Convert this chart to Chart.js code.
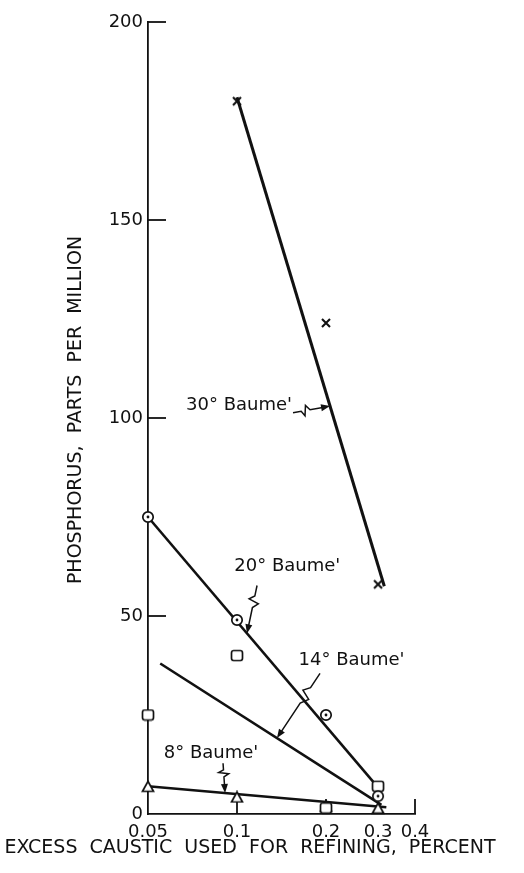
<!DOCTYPE html>
<html>
<head>
<meta charset="utf-8">
<script src="https://cdn.jsdelivr.net/npm/chart.js@4/dist/chart.umd.min.js"></script>
<style>
  html, body { margin: 0; padding: 0; background: #fff; }
  #wrap { width: 524px; height: 873px; }
</style>
</head>
<body>
<div id="wrap"><canvas id="c" width="524" height="873"></canvas></div>
<script>
// Excess caustic (percent) at which the oils were refined
const causticPct = [0.05, 0.1, 0.2, 0.3];

// Phosphorus (ppm) in the refined oil, one list per gravity of caustic
const baume30 = [null, 180, 124, 58];
const baume20 = [75, 49, 25, 4.5];
const baume14 = [25, 40, 1.5, 7];
const baume8  = [7, 4.3, 2, 1.5];

// Hand-fitted trend lines (start, end)
const fit30X = [0.1, 0.315];   const fit30Y = [181, 57.5];
const fit20X = [0.05, 0.29];   const fit20Y = [75, 8];
const fit14X = [0.055, 0.308]; const fit14Y = [38, 2.3];
const fit8X  = [0.05, 0.32];   const fit8Y  = [7, 1.7];

// Axis ticks
const xTicks = [0.05, 0.1, 0.2, 0.3, 0.4];
const xTickLabels = ['0.05', '0.1', '0.2', '0.3', '0.4'];
const yTicks = [0, 50, 100, 150, 200];

// Curve names and their callout pointers (data units)
const curveNames = ["30° Baume'", "20° Baume'", "14° Baume'", "8° Baume'"];
const nameX = [0.1016, 0.148, 0.244, 0.0817];
const nameY = [103.3, 62.5, 38.8, 15.4];
const pointerFromX = [0.1547, 0.1169, 0.1909, 0.0897];
const pointerFromY = [101.3, 57.7, 35.5, 12.8];
const pointerToX   = [0.2064, 0.1081, 0.1365, 0.0911];

const xTitle = 'EXCESS  CAUSTIC  USED  FOR  REFINING,  PERCENT';
const yTitle = 'PHOSPHORUS,  PARTS  PER  MILLION';

const ink = '#111';
const FONT = '"DejaVu Sans", "Liberation Sans", sans-serif';
Chart.defaults.font.family = FONT;
Chart.defaults.color = ink;

// ---- point symbols ----
function markerCanvas(w, h, draw) {
  const c = document.createElement('canvas');
  c.width = w; c.height = h;
  const g = c.getContext('2d');
  g.strokeStyle = ink; g.fillStyle = '#fff'; g.lineWidth = 1.7;
  draw(g, w, h);
  return c;
}
const dotCircle = markerCanvas(14, 14, g => {
  g.beginPath(); g.arc(7, 7, 5.2, 0, Math.PI * 2); g.fill(); g.stroke();
  g.beginPath(); g.fillStyle = ink; g.arc(7, 7, 1.4, 0, Math.PI * 2); g.fill();
});
const openSquare = markerCanvas(14, 13, g => {
  const x = 1.5, y = 1.5, w = 11, h = 10, r = 2.2;
  g.beginPath();
  g.moveTo(x + r, y); g.lineTo(x + w - r, y); g.quadraticCurveTo(x + w, y, x + w, y + r);
  g.lineTo(x + w, y + h - r); g.quadraticCurveTo(x + w, y + h, x + w - r, y + h);
  g.lineTo(x + r, y + h); g.quadraticCurveTo(x, y + h, x, y + h - r);
  g.lineTo(x, y + r); g.quadraticCurveTo(x, y, x + r, y);
  g.closePath(); g.fill(); g.stroke();
});
const openTriangle = markerCanvas(14, 13, g => {
  g.beginPath(); g.moveTo(7, 1.5); g.lineTo(12.5, 11.5); g.lineTo(1.5, 11.5); g.closePath();
  g.fill(); g.stroke();
});
const crossMark = markerCanvas(12, 12, g => {
  g.lineWidth = 2.1;
  g.beginPath(); g.moveTo(2, 2); g.lineTo(10, 10); g.moveTo(10, 2); g.lineTo(2, 10); g.stroke();
});

function pts(xs, ys) {
  return xs.map((x, i) => ({ x, y: ys[i] })).filter(p => p.y !== null);
}
function fitValueAt(xs, ys, x) {
  const t = (Math.log(x) - Math.log(xs[0])) / (Math.log(xs[1]) - Math.log(xs[0]));
  return ys[0] + t * (ys[1] - ys[0]);
}
const fitsX = [fit30X, fit20X, fit14X, fit8X];
const fitsY = [fit30Y, fit20Y, fit14Y, fit8Y];

function markerSet(ys, style) {
  return { data: pts(causticPct, ys), showLine: false, pointStyle: style, pointRadius: 6,
           pointHoverRadius: 6, order: 0, clip: false };
}
function fitSet(xs, ys, w) {
  return { data: pts(xs, ys), showLine: true, borderColor: ink, borderWidth: w,
           pointRadius: 0, pointHoverRadius: 0, order: 1, clip: false };
}

// inward tick marks on both axes
const innerTicks = {
  id: 'innerTicks',
  beforeDatasetsDraw(chart) {
    const { ctx, chartArea: a, scales: { x, y } } = chart;
    ctx.save();
    ctx.strokeStyle = ink; ctx.lineWidth = 1.8;
    yTicks.forEach(v => {
      if (v === 0) return;
      const py = y.getPixelForValue(v);
      ctx.beginPath(); ctx.moveTo(a.left, py); ctx.lineTo(a.left + 18, py); ctx.stroke();
    });
    xTicks.forEach(v => {
      if (v === xTicks[0]) return;
      const px = x.getPixelForValue(v);
      ctx.beginPath(); ctx.moveTo(px, a.bottom); ctx.lineTo(px, a.bottom - 15); ctx.stroke();
    });
    ctx.restore();
  }
};

function drawPointer(ctx, sx, sy, ex, ey) {
  const dx = ex - sx, dy = ey - sy, L = Math.hypot(dx, dy);
  const tx = dx / L, ty = dy / L, nx = -ty, ny = tx;
  const at = (f, o) => [sx + tx * L * f + nx * o, sy + ty * L * f + ny * o];
  ctx.beginPath();
  ctx.moveTo(sx, sy);
  ctx.lineTo(...at(0.22, 0));
  ctx.lineTo(...at(0.3, 5));
  ctx.lineTo(...at(0.36, -5));
  ctx.lineTo(...at(0.46, 0));
  ctx.lineTo(ex - tx * 6, ey - ty * 6);
  ctx.stroke();
  ctx.beginPath();
  ctx.moveTo(ex, ey);
  ctx.lineTo(ex - tx * 9 + nx * 3.5, ey - ty * 9 + ny * 3.5);
  ctx.lineTo(ex - tx * 9 - nx * 3.5, ey - ty * 9 - ny * 3.5);
  ctx.closePath(); ctx.fill();
}

// curve names, pointers and axis titles
const callouts = {
  id: 'callouts',
  afterDraw(chart) {
    const { ctx, scales: { x, y }, width } = chart;
    ctx.save();
    ctx.fillStyle = ink; ctx.strokeStyle = ink; ctx.lineWidth = 1.5;
    ctx.font = '18px ' + FONT;
    ctx.textAlign = 'center'; ctx.textBaseline = 'middle';
    curveNames.forEach((name, i) => {
      ctx.fillText(name, x.getPixelForValue(nameX[i]), y.getPixelForValue(nameY[i]));
      const tx = pointerToX[i];
      const ty = fitValueAt(fitsX[i], fitsY[i], tx);
      drawPointer(ctx,
        x.getPixelForValue(pointerFromX[i]), y.getPixelForValue(pointerFromY[i]),
        x.getPixelForValue(tx), y.getPixelForValue(ty));
    });
    ctx.font = '19px ' + FONT;
    ctx.fillText(xTitle, width / 2 - 12, 848);
    ctx.translate(76, 410);
    ctx.rotate(-Math.PI / 2);
    ctx.fillText(yTitle, 0, 0);
    ctx.restore();
  }
};

new Chart(document.getElementById('c'), {
  type: 'scatter',
  data: {
    datasets: [
      markerSet(baume30, crossMark),
      markerSet(baume20, dotCircle),
      markerSet(baume14, openSquare),
      markerSet(baume8, openTriangle),
      fitSet(fit30X, fit30Y, 3),
      fitSet(fit20X, fit20Y, 2.6),
      fitSet(fit14X, fit14Y, 2.6),
      fitSet(fit8X, fit8Y, 2.6)
    ]
  },
  options: {
    responsive: false,
    animation: false,
    devicePixelRatio: 1,
    layout: { padding: { left: 0, right: 109, top: 22, bottom: 0 } },
    plugins: { legend: { display: false }, tooltip: { enabled: false } },
    scales: {
      x: {
        type: 'logarithmic', min: 0.05, max: 0.4, position: 'bottom',
        afterBuildTicks: s => { s.ticks = xTicks.map(v => ({ value: v })); },
        afterFit: s => { s.height = 59; },
        ticks: {
          autoSkip: false, maxRotation: 0, minRotation: 0, color: ink,
          font: { size: 18 }, padding: 8,
          callback: (v, i) => xTickLabels[i]
        },
        grid: { display: true, drawOnChartArea: false, drawTicks: false },
        border: { display: true, color: ink, width: 1.8 }
      },
      y: {
        type: 'linear', min: 0, max: 200, position: 'left',
        afterBuildTicks: s => { s.ticks = yTicks.map(v => ({ value: v })); },
        afterFit: s => { s.width = 148; },
        ticks: { color: ink, font: { size: 18 }, padding: 5 },
        grid: { display: true, drawOnChartArea: false, drawTicks: false },
        border: { display: true, color: ink, width: 1.8 }
      }
    }
  },
  plugins: [innerTicks, callouts]
});
</script>
</body>
</html>
